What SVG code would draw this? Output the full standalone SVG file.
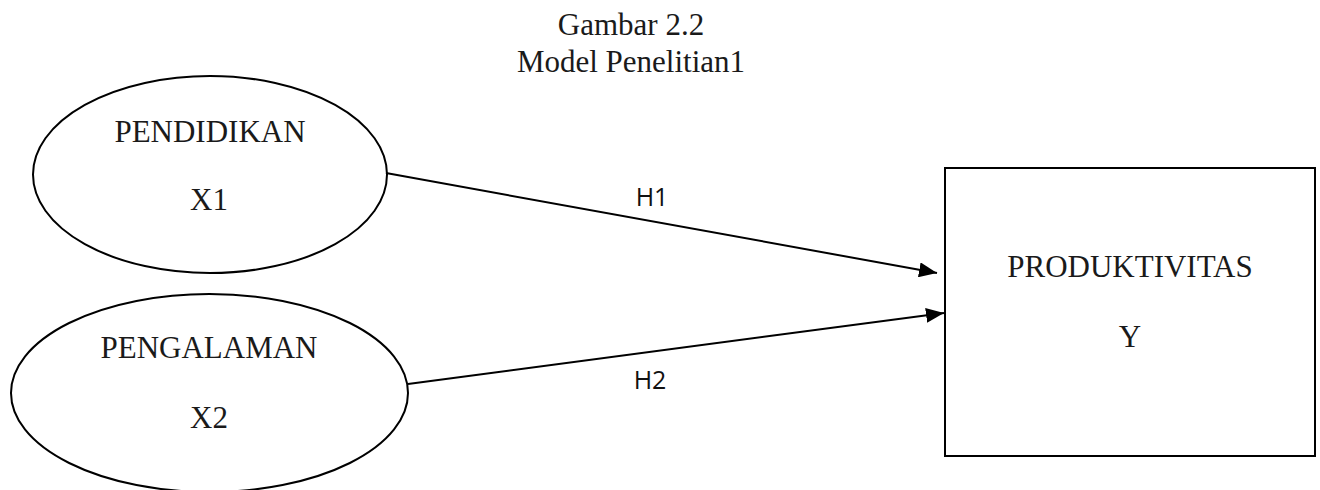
<svg xmlns="http://www.w3.org/2000/svg" width="1320" height="490" viewBox="0 0 1320 490">
<defs>
<style>
.t{font-family:"Liberation Serif","Times New Roman",serif;font-size:31px;fill:#1a1a1a;text-anchor:middle}
.h{font-family:"Open Sans","Liberation Sans",sans-serif;font-size:25px;fill:#111;text-anchor:middle}
.s{fill:none;stroke:#000;stroke-width:2}
.c{fill:none;stroke:#000;stroke-width:2}
</style>
<marker id="ah" markerWidth="18" markerHeight="15" refX="18" refY="7.5" orient="auto" markerUnits="userSpaceOnUse">
<path d="M0,0 L18,7.5 L0,15 Z" fill="#000"/>
</marker>
</defs>
<rect width="1320" height="490" fill="#fff"/>
<g id="title">
<text class="t" x="631" y="35">Gambar 2.2</text>
<text class="t" x="631" y="72">Model Penelitian1</text>
</g>
<g id="x1">
<ellipse class="s" cx="210" cy="174.5" rx="177" ry="98.5"/>
<text class="t" x="210" y="142">PENDIDIKAN</text>
<text class="t" x="209" y="210">X1</text>
</g>
<g id="x2">
<ellipse class="s" cx="209.5" cy="393" rx="198.5" ry="99"/>
<text class="t" x="209" y="358">PENGALAMAN</text>
<text class="t" x="209" y="428">X2</text>
</g>
<g id="y">
<rect class="s" x="945" y="168" width="370" height="288"/>
<text class="t" x="1130" y="277">PRODUKTIVITAS</text>
<text class="t" x="1130" y="347">Y</text>
</g>
<g id="connectors">
<line class="c" x1="386" y1="173" x2="937" y2="273" marker-end="url(#ah)"/>
<line class="c" x1="408" y1="384" x2="944" y2="313" marker-end="url(#ah)"/>
<text class="h" x="652" y="206">H1</text>
<text class="h" x="650" y="389">H2</text>
</g>
</svg>
